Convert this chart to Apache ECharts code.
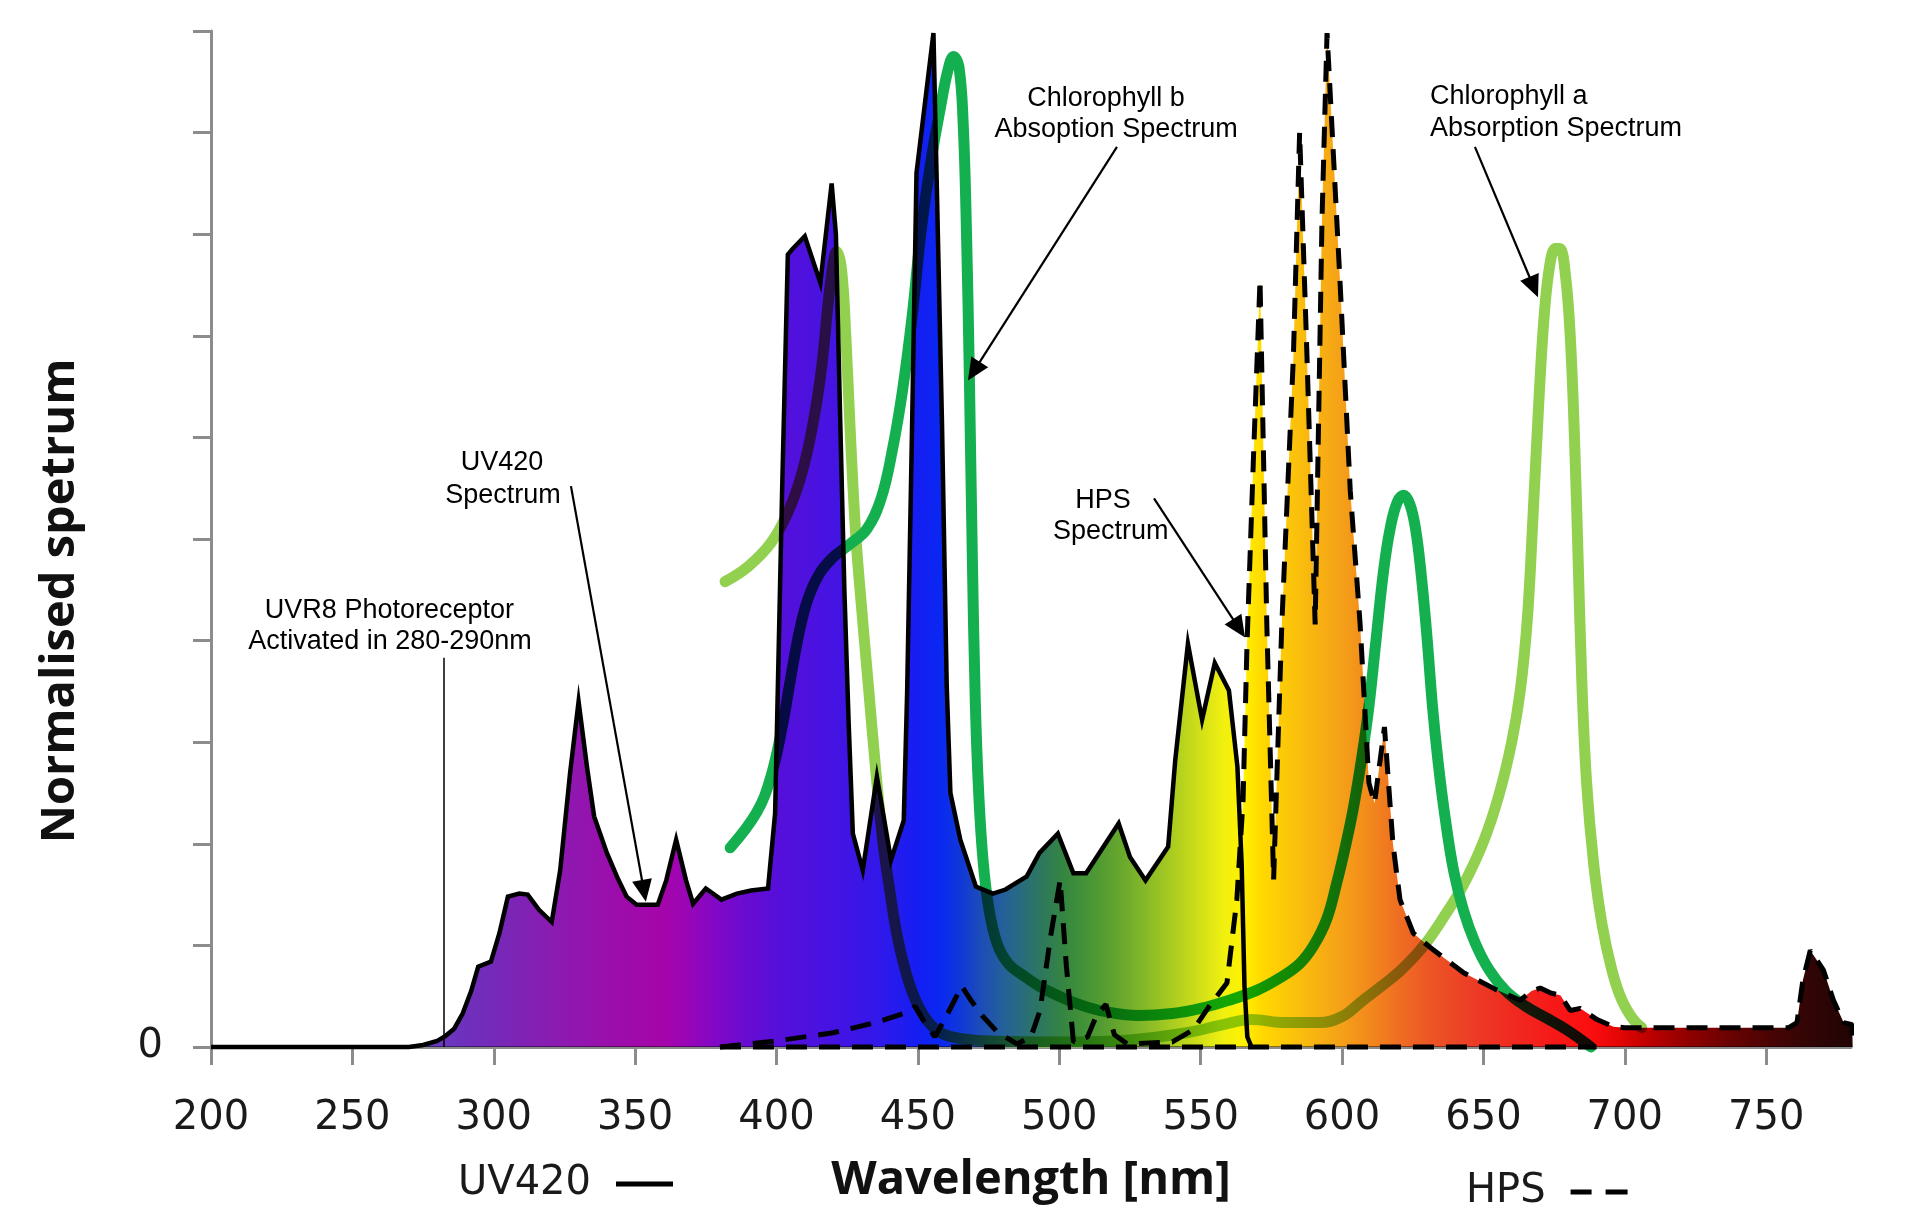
<!DOCTYPE html>
<html><head><meta charset="utf-8">
<script src="https://cdn.jsdelivr.net/npm/echarts@6/dist/echarts.min.js"></script>
<style>html,body{margin:0;padding:0;background:#fff}#c{width:1920px;height:1219px}</style>
</head><body><div id="c"></div>
<script>
// ---- data (wavelength nm, normalised value 0..100) ----
const xTicks = [200, 250, 300, 350, 400, 450, 500, 550, 600, 650, 700, 750];

const uv420 = [
[200,0],[270,0],[275,0.2],[280,0.6],[283,1.1],[286,1.8],[289,3.3],[292,5.5],[294.5,7.9],[299,8.4],[302,11.2],[305,14.8],[309,15.1],[312,15.0],[316,13.5],[320.5,12.3],[323.5,17.4],[327,27],[330,34.0],[333,27.5],[335.5,22.7],[340,19.1],[344,16.5],[347,14.8],[350.5,14.0],[358,14.0],[361,16.4],[364.5,20.4],[368,16.4],[370.5,14.1],[375,15.6],[380.5,14.5],[386,15.1],[391,15.4],[397,15.6],[399.5,23],[402,55],[404,78],[405.5,78.5],[410,79.8],[415.5,75.2],[419.5,85.0],[421,80],[422.5,62],[424,45],[425.5,32],[427,21],[430.5,17.4],[435.5,26.6],[440.5,18.4],[445,22.3],[446.2,35],[448,62],[449.5,86],[455.5,99.8],[458.5,61.7],[460.2,35.5],[461.5,25.0],[465,20.4],[470.5,15.8],[476.5,15.1],[481,15.5],[488.5,16.8],[493,19.1],[499.5,21.0],[505,17.1],[509.5,17.1],[521,22.0],[525,18.7],[530.5,16.4],[538.5,19.7],[541,28.2],[545.5,39.7],[550.5,32.2],[555,37.8],[560,35.1],[563,27.6],[564.5,18],[565.5,6],[566.5,1],[568,0]
];

const hps = [
[380,0],[400,0.6],[420,1.4],[435,2.4],[445,3.3],[449,4.0],[452,2.6],[456,1.0],[460,3.0],[465.5,6.0],[469,4.5],[473,3.0],[478,1.5],[485,0.3],[490,1.0],[493.2,3.6],[497,11],[500.3,16.4],[502.5,8],[505,0.5],[510,1.0],[513,3.0],[516.5,4.2],[519.5,1.2],[524,0.3],[540,0.5],[547.4,1.7],[553,4.0],[559.3,6.3],[562.8,14.5],[565,24.3],[566.4,39.7],[568.7,58.2],[571,75.5],[573.4,41.6],[575.8,16.5],[578.7,41.6],[582.8,68],[585,90],[587.6,68],[590.5,41.6],[592.9,81.3],[594.7,99.8],[599.4,74.7],[602.9,54.8],[606.4,41.6],[609.5,26],[611.5,24],[615,31.5],[618,20],[620.5,14.5],[625.2,11.2],[631.2,9.8],[643,7.3],[654.8,5.6],[663,4.6],[667,5.5],[670.1,5.8],[674,5.3],[677.2,5.1],[680.7,3.6],[684.3,3.8],[690.2,2.7],[696,2.0],[700,1.9],[758,1.9],[760.9,2.4],[763,6.6],[765.6,9.5],[770.2,7.6],[773.8,4.6],[777.4,2.4],[780.4,2.2],[780.6,0]
];

const hpsBaseline = [[380,0],[690,0]];

const chlA = [
[381.8,45.8],[390,47.3],[398,49.6],[404,52.6],[409,56.5],[413,61.5],[416,67],[419,75],[421.3,78.3],[423,76.5],[424.5,70],[426,61],[428,50.5],[430,43.5],[432.5,35.5],[435,27.5],[437.5,20.5],[440,15.5],[443,10.5],[447,6.2],[451,3.6],[456,1.8],[462,1.0],[475,0.6],[500,0.5],[525,0.7],[545,1.4],[558,2.2],[568,2.7],[580,2.4],[592,2.4],[600,3.0],[607,4.5],[614,6.0],[621,7.6],[629,10.0],[636,12.8],[643,16.0],[650,20.2],[655.5,24.8],[660,30],[663,35],[665.5,42],[667.5,52],[669.5,63],[671.5,72],[673.5,77],[675.5,78.6],[677,78.6],[679,76],[680.7,70],[682.2,60],[683.5,48],[684.8,36],[686.5,26],[689,18],[692,12],[695.5,7.5],[699,4.6],[703,2.7],[706,1.9]
];

const chlB = [
[383.6,19.6],[393,23.1],[398,26.6],[402,31.5],[405,36.3],[408,40.8],[411,44],[415,46.5],[420,48.2],[426,49.5],[432,51],[437,54],[441,58.8],[444.5,64.5],[448,72],[451,80],[454.5,87],[458,92.5],[460.5,96],[462.6,97.5],[464.5,96.5],[466,91],[467.2,80],[468.2,66],[469.2,49],[470.3,34],[471.5,25],[473,18.5],[475,13.8],[478,10.2],[482,8.2],[488,6.9],[494,5.8],[500,5.0],[508,4.1],[516,3.5],[528,3.1],[540,3.3],[550,3.8],[560,4.6],[570,5.6],[578,6.8],[585,8.2],[590,10],[594.6,12.6],[598,16],[601,19.5],[604,23.5],[607,28.5],[609.5,33.5],[612,40],[614.7,46.9],[617,51],[619.5,53.6],[621.8,54.3],[624,53.4],[626,51],[628,46.5],[630,40.5],[632,33.5],[634,28],[636.5,22.5],[639.5,17.3],[643,13.4],[647,10.3],[652,7.6],[658,5.5],[665,4.0],[672,2.9],[680,1.6],[688,0]
];

// wavelength -> colour of the spectral fill
const spectrumColors = [
[275,'#6440c0'],[290,'#6e30bc'],[305,'#7a26b6'],[320,'#8a1cb2'],[335,'#9612ae'],[350,'#a00aaa'],[360,'#a504aa'],[368,'#9a06b6'],[378,'#8208c6'],[390,'#680cd2'],[400,'#560fda'],[415,'#4a12e0'],[430,'#3a16e6'],[440,'#2a1aec'],[450,'#141ef2'],[458,'#0a28f2'],[465,'#1038d8'],[472,'#1c4cb8'],[480,'#24609a'],[488,'#2a6e78'],[495,'#2e7a58'],[502,'#368640'],[510,'#469436'],[520,'#62a42e'],[530,'#84b828'],[540,'#aacc20'],[550,'#d2e018'],[558,'#f0f010'],[565,'#fff200'],[572,'#ffd800'],[580,'#fcc808'],[590,'#f8b410'],[600,'#f5a018'],[610,'#f2881c'],[620,'#ef6e22'],[632,'#ec5426'],[645,'#ec3e26'],[660,'#f02a20'],[675,'#f61818'],[688,'#fc0e0e'],[697,'#e80606'],[708,'#c00000'],[722,'#920000'],[738,'#680202'],[752,'#480404'],[765,'#320505'],[780,'#220404']
];

// annotation layout (in data coordinates)
const annotationTexts = [
  {text:'Chlorophyll b', at:[516.5,93.4], align:'center'},
  {text:'Absoption Spectrum', at:[520.1,90.3], align:'center'},
  {text:'Chlorophyll a', at:[631.1,93.5], align:'left'},
  {text:'Absorption Spectrum', at:[631.1,90.4], align:'left'},
  {text:'UV420', at:[302.9,57.5], align:'center'},
  {text:'Spectrum', at:[303.3,54.3], align:'center'},
  {text:'UVR8 Photoreceptor', at:[263.1,43.0], align:'center'},
  {text:'Activated in 280-290nm', at:[263.3,39.9], align:'center'},
  {text:'HPS', at:[515.5,53.8], align:'center'},
  {text:'Spectrum', at:[518.2,50.7], align:'center'}
];
const annotationArrows = [
  {from:[520.4,88.6], to:[467.7,65.6]},
  {from:[647.0,88.6], to:[669.3,73.8]},
  {from:[327.3,55.2], to:[353.8,14.3]},
  {from:[533.5,54.0], to:[565.7,40.3]}
];
const uvr8Line = {from:[282.4,38.3], to:[282.4,0]};

// ---- upper envelope of the two lamp spectra (fill region) ----
function valueAt(arr, x){
  if (x < arr[0][0] || x > arr[arr.length-1][0]) return 0;
  for (let i = 1; i < arr.length; i++){
    if (x <= arr[i][0]){
      const a = arr[i-1], b = arr[i];
      const t = b[0] === a[0] ? 1 : (x - a[0]) / (b[0] - a[0]);
      return a[1] + t * (b[1] - a[1]);
    }
  }
  return 0;
}
const fillXs = Array.from(new Set(uv420.map(p=>p[0]).concat(hps.map(p=>p[0])))).sort((a,b)=>a-b);
const fillEnvelope = fillXs.map(x => [x, Math.max(valueAt(uv420,x), valueAt(hps,x))]);

const chart = echarts.init(document.getElementById('c'), null, {renderer:'canvas'});

const tickFont = 'DejaVu Sans';
const legendText = {fontFamily:tickFont, fontSize:40, color:'#1a1a1a', padding:[0,20,0,0]};
const option = {
  backgroundColor:'#ffffff',
  animation:false,
  grid:{left:211, top:31, width:1640, height:1016, containLabel:false},
  legend:[
    {data:[{name:'UV420', icon:'path://M0,0H57V5H0Z'}], left:458, top:1164, padding:0, align:'right',
     itemWidth:57, itemHeight:5, selectedMode:false, itemStyle:{color:'#000'}, textStyle:legendText},
    {data:[{name:'HPS', icon:'path://M0,0H21V5H0ZM35,0H57V5H35Z'}], left:1466, top:1172, padding:0, align:'right',
     itemWidth:57, itemHeight:5, selectedMode:false, itemStyle:{color:'#000'}, textStyle:legendText}
  ],
  xAxis:{
    type:'value', min:200, max:780, interval:50,
    axisLine:{show:true, lineStyle:{color:'#8c8c8c', width:3}},
    axisTick:{show:true, length:18, customValues:xTicks, lineStyle:{color:'#8c8c8c', width:3}},
    axisLabel:{customValues:xTicks, fontFamily:tickFont, fontSize:40, color:'#1a1a1a', margin:52},
    splitLine:{show:false},
    name:'Wavelength [nm]', nameLocation:'middle', nameGap:110,
    nameTextStyle:{fontFamily:'Open Sans', fontWeight:'bold', fontSize:47, color:'#111'}
  },
  yAxis:{
    type:'value', min:0, max:100, interval:10,
    axisLine:{show:true, lineStyle:{color:'#8c8c8c', width:3}},
    axisTick:{show:true, length:18, lineStyle:{color:'#8c8c8c', width:3}},
    axisLabel:{formatter:v => v === 0 ? '0' : '', fontFamily:tickFont, fontSize:40, color:'#1a1a1a', margin:48},
    splitLine:{show:false},
    name:'Normalised spetrum', nameLocation:'middle', nameRotate:90, nameGap:127,
    nameTextStyle:{fontFamily:'Open Sans', fontWeight:'bold', fontSize:47, color:'#111', padding:[0,124,0,0]}
  },
  series:[
    {name:'Chlorophyll a', type:'line', data:chlA, z:2, symbol:'none', smooth:0.4, clip:false, silent:true,
     lineStyle:{color:'#92d050', width:11, cap:'round', join:'round'}},
    {name:'Chlorophyll b', type:'line', data:chlB, z:2, symbol:'none', smooth:0.4, clip:false, silent:true,
     lineStyle:{color:'#14b050', width:11, cap:'round', join:'round'}},
    {name:'Spectrum fill', type:'custom', data:fillEnvelope, z:3, silent:true, clip:false,
     encode:{x:0, y:1},
     renderItem:function(params, api){
       if (params.dataIndex !== 0) return null;
       const pts = fillEnvelope.map(p => api.coord(p));
       pts.unshift(api.coord([fillEnvelope[0][0], 0]));
       pts.push(api.coord([fillEnvelope[fillEnvelope.length-1][0], 0]));
       const lo = spectrumColors[0][0], hi = spectrumColors[spectrumColors.length-1][0];
       const x0 = api.coord([lo,0])[0], x1 = api.coord([hi,0])[0];
       const stops = spectrumColors.map(s => ({offset:(s[0]-lo)/(hi-lo), color:s[1]}));
       return {type:'polygon', name:'spectrumFill', shape:{points:pts},
               style:{fill:new echarts.graphic.LinearGradient(x0,0,x1,0,stops,true), blend:'multiply'}};
     }},
    {name:'UV420', type:'line', data:uv420, z:4, symbol:'none', clip:false, silent:true,
     itemStyle:{color:'#000'}, lineStyle:{color:'#000', width:4.5, join:'miter'}},
    {name:'HPS', type:'line', data:hps, z:4, symbol:'none', clip:false, silent:true,
     itemStyle:{color:'#000'}, lineStyle:{color:'#000', width:5, type:[21,12]}},
    {name:'HPS baseline', type:'line', data:hpsBaseline, z:4, symbol:'none', clip:false, silent:true,
     itemStyle:{color:'#000'}, lineStyle:{color:'#000', width:5, type:[21,12]}}
  ]
};
chart.setOption(option);

// ---- annotations placed through the axes' scales ----
function toPx(p){ return chart.convertToPixel({gridIndex:0}, p); }
const graphics = [];
annotationArrows.forEach(a => {
  const p0 = toPx(a.from), p1 = toPx(a.to);
  const dx = p1[0]-p0[0], dy = p1[1]-p0[1], L = Math.hypot(dx,dy);
  const ux = dx/L, uy = dy/L, nx = -uy, ny = ux;
  const headL = 22, headW = 10;
  const bx = p1[0]-ux*headL, by = p1[1]-uy*headL;
  graphics.push({type:'line', z:100, shape:{x1:p0[0], y1:p0[1], x2:bx+ux*2, y2:by+uy*2}, style:{stroke:'#000', lineWidth:2.2}});
  graphics.push({type:'polygon', z:100, shape:{points:[[p1[0],p1[1]],[bx+nx*headW,by+ny*headW],[bx-nx*headW,by-ny*headW]]}, style:{fill:'#000'}});
});
{
  const p0 = toPx(uvr8Line.from), p1 = toPx(uvr8Line.to);
  graphics.push({type:'line', z:100, shape:{x1:p0[0], y1:p0[1], x2:p1[0], y2:p1[1]}, style:{stroke:'#000', lineWidth:1.5}});
}
annotationTexts.forEach(t => {
  const p = toPx(t.at);
  graphics.push({type:'text', z:100, x:p[0], y:p[1],
    style:{text:t.text, font:'27px "Liberation Sans", Arial, sans-serif', fill:'#000', align:t.align, verticalAlign:'middle'}});
});
chart.setOption({graphic:graphics});

// multiply the spectral fill over the absorption curves (as in the original figure)
function applyBlend(){
  const zr = chart.getZr();
  let changed = false;
  zr.storage.getDisplayList(true).forEach(el => {
    if (el.name === 'spectrumFill' && el.style && el.style.blend !== 'multiply'){
      el.style.blend = 'multiply';
      el.markRedraw();
      changed = true;
    }
  });
  if (changed) zr.refreshImmediately();
}
applyBlend();
chart.on('finished', applyBlend);
</script>
</body></html>
